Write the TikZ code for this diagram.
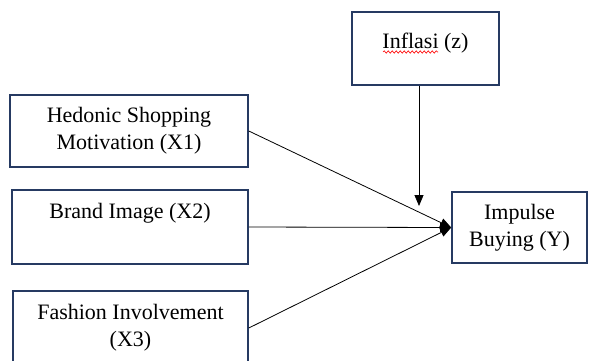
\documentclass[tikz,border=0pt]{standalone}
\usepackage{fontspec}
\setmainfont{Liberation Serif}
\usepackage{tikz}
\usetikzlibrary{arrows.meta,decorations.pathmorphing}
\definecolor{boxblue}{RGB}{38,58,98}
\tikzstyle{basic box}=[draw=boxblue, line width=1.6pt, align=center, inner sep=0pt, font=\fontsize{22}{27}\selectfont]
\tikzstyle{basic arrow}=[line width=0.8pt, -{Triangle[length=11pt,width=9pt]}]

\begin{document}
\begin{tikzpicture}[x=1pt,y=-1pt]
	\useasboundingbox (0,0) rectangle (589,360);
	\clip (0,0) rectangle (589,360);

		\node [style=basic box, minimum width=147pt, minimum height=73pt, text depth=15pt] (z) at (425.5, 48.5) {Inflasi (z)};
		\node [style=basic box, minimum width=238pt, minimum height=72pt] (x1) at (129, 131) {Hedonic Shopping\\Motivation (X1)};
		\node [style=basic box, minimum width=236pt, minimum height=74pt, text depth=32pt] (x2) at (130, 227) {Brand Image (X2)};
		\node [style=basic box, minimum width=235pt, minimum height=74pt] (x3) at (130.5, 328) {Fashion Involvement\\(X3)};
		\node [style=basic box, minimum width=135pt, minimum height=71pt] (y) at (519.5, 227.5) {Impulse\\Buying (Y)};
		\coordinate (zend) at (419, 206);

		% spell-check underline
		\draw [red, line width=0.6pt, decorate, decoration={snake, amplitude=1.2pt, segment length=4pt}] (383, 52) -- (438, 52);

		\draw [style=basic arrow] (x1.east) to (y.west);
		\draw [style=basic arrow] (x2.east) to (y.west);
		\draw [style=basic arrow] (x3.east) to (y.west);
		\draw [style=basic arrow] (z.south -| zend) to (zend);

\end{tikzpicture}
\end{document}
